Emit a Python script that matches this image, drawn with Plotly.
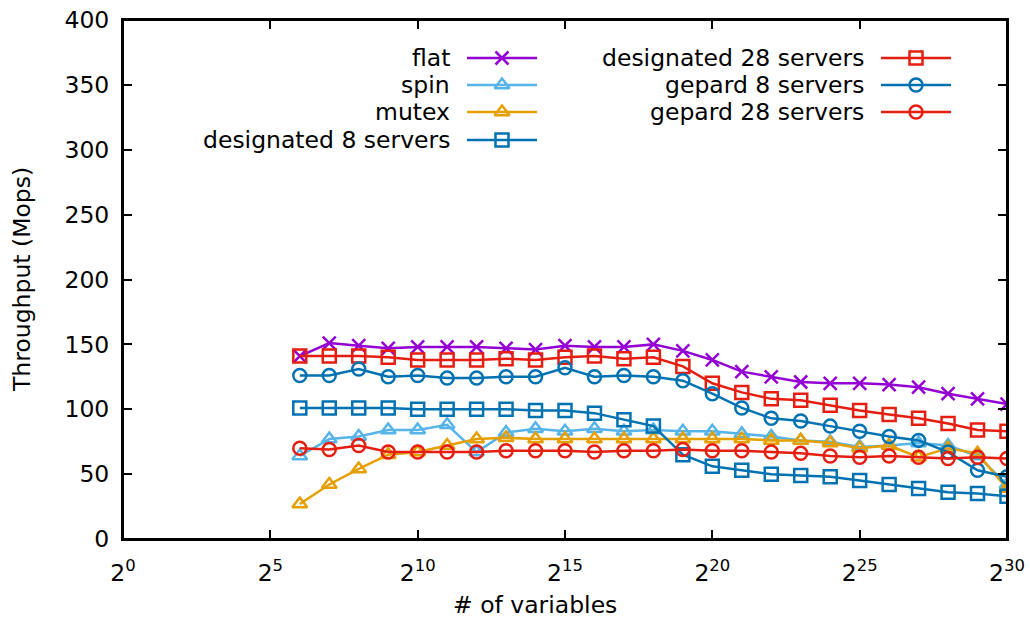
import plotly.graph_objects as go

exponents = list(range(6, 31))
variables = [2 ** e for e in exponents]

flat = [141, 151, 149, 147, 148, 148, 148, 147, 146, 149, 148, 148, 150, 145, 138, 129,
        125, 121, 120, 120, 119, 117, 112, 108, 104]
spin = [64, 77, 79, 84, 84, 88, 67, 82, 85, 83, 85, 83, 84, 83, 83, 81,
        79, 76, 75, 71, 72, 74, 72, 64, 42]
mutex = [27, 42, 54, 65, 67, 72, 77, 78, 77, 77, 77, 77, 77, 77, 77, 77,
         76, 76, 74, 70, 72, 63, 70, 66, 39]
designated8 = [101, 101, 101, 101, 100, 100, 100, 100, 99, 99, 97, 92, 87, 65, 56, 53,
               50, 49, 48, 45, 42, 39, 36, 35, 33]
designated28 = [141, 141, 141, 140, 138, 138, 138, 139, 138, 140, 141, 139, 140, 133, 120, 113,
                108, 107, 103, 99, 96, 93, 89, 84, 83]
gepard8 = [126, 126, 131, 125, 126, 124, 124, 125, 125, 132, 125, 126, 125, 122, 112, 101,
           93, 91, 87, 83, 79, 76, 67, 53, 48]
gepard28 = [70, 69, 72, 67, 67, 67, 67, 68, 68, 68, 67, 68, 68, 69, 68, 68,
            67, 66, 64, 63, 64, 63, 62, 63, 62]

series = [
    ("flat", flat, "#9400d3", "x-thin-open"),
    ("spin", spin, "#56b4e9", "triangle-up-open"),
    ("mutex", mutex, "#e69f00", "triangle-up-open"),
    ("designated 8 servers", designated8, "#0072b2", "square-open"),
    ("designated 28 servers", designated28, "#e51e10", "square-open"),
    ("gepard 8 servers", gepard8, "#0072b2", "circle-open"),
    ("gepard 28 servers", gepard28, "#e51e10", "circle-open"),
]

x_tick_exp = [0, 5, 10, 15, 20, 25, 30]
x_tick_vals = [2 ** e for e in x_tick_exp]
x_tick_text = [f"2<sup>{e}</sup>" for e in x_tick_exp]
y_tick_vals = list(range(0, 401, 50))

FONT = "DejaVu Sans"
FS = 23.5
fig = go.Figure()

for name, vals, color, sym in series:
    fig.add_trace(go.Scatter(
        x=variables, y=vals, mode="lines+markers", name=name,
        line=dict(color=color, width=2.5),
        marker=dict(symbol=sym, size=13, color=color,
                    line=dict(color=color, width=2.5)),
        showlegend=False,
    ))

# page-pixel geometry of the plot area (body margin removed by post_script)
L, R, T, B = 123, 1007, 20, 539
W, H = 1030, 621
legend_pos = [
    (452, 467, 537, 58),
    (452, 467, 537, 85),
    (452, 467, 537, 112),
    (452, 467, 537, 140),
    (866, 881, 951, 58),
    (866, 881, 951, 85),
    (866, 881, 951, 112),
]
for (name, vals, color, sym), (tx, x0, x1, yy) in zip(series, legend_pos):
    fig.add_trace(go.Scatter(
        x=[x0, (x0 + x1) / 2, x1], y=[yy, yy, yy], xaxis="x2", yaxis="y2",
        mode="lines", line=dict(color=color, width=2.5),
        showlegend=False, hoverinfo="skip"))
    fig.add_trace(go.Scatter(
        x=[(x0 + x1) / 2], y=[yy], xaxis="x2", yaxis="y2",
        mode="markers",
        marker=dict(symbol=sym, size=13, color=color, line=dict(color=color, width=2.5)),
        showlegend=False, hoverinfo="skip"))
    fig.add_annotation(x=tx, y=yy, xref="x2", yref="y2", text=name, showarrow=False,
                       xanchor="right", yanchor="middle",
                       font=dict(family=FONT, size=FS, color="black"))

# axis titles
fig.add_annotation(x=(535 - L) / (R - L), y=(B - 605) / (B - T), xref="paper", yref="paper",
                   text="# of variables", showarrow=False, xanchor="center", yanchor="middle",
                   font=dict(family=FONT, size=FS, color="black"))
fig.add_annotation(x=(22 - L) / (R - L), y=(B - 280) / (B - T), xref="paper", yref="paper",
                   text="Throughput (Mops)", showarrow=False, xanchor="center", yanchor="middle",
                   textangle=-90, font=dict(family=FONT, size=FS, color="black"))

# plot border (gnuplot box)
fig.add_shape(type="rect", xref="paper", yref="paper", x0=0, x1=1, y0=0, y1=1,
              line=dict(color="black", width=2), layer="above")

fig.update_layout(
    width=W, height=H,
    margin=dict(l=L, r=W - R, t=T, b=H - B, autoexpand=False),
    paper_bgcolor="white", plot_bgcolor="white",
    font=dict(family=FONT, size=FS, color="black"),
    hovermode=False,
    xaxis=dict(
        type="log", range=[0, 30 * 0.30102999566], tickvals=x_tick_vals, ticktext=x_tick_text,
        ticks="inside", ticklen=9, tickwidth=1.5, tickcolor="black",
        showline=True, linecolor="black", linewidth=2, mirror="ticks",
        showgrid=False, zeroline=False, automargin=False,
        tickfont=dict(size=FS), ticklabelstandoff=12, ticklabeloverflow="allow",
    ),
    yaxis=dict(
        range=[0, 400], tickvals=y_tick_vals,
        ticks="inside", ticklen=9, tickwidth=1.5, tickcolor="black",
        showline=True, linecolor="black", linewidth=2, mirror="ticks",
        showgrid=False, zeroline=False, automargin=False,
        ticklabelstandoff=7, ticklabeloverflow="allow",
    ),
    xaxis2=dict(overlaying="x", range=[L, R], visible=False, fixedrange=True),
    yaxis2=dict(overlaying="y", range=[B, T], visible=False, fixedrange=True),
)

fig.write_html("out.html", config={"displayModeBar": False},
               post_script="document.body.style.margin='0px';document.body.style.overflow='hidden';")
